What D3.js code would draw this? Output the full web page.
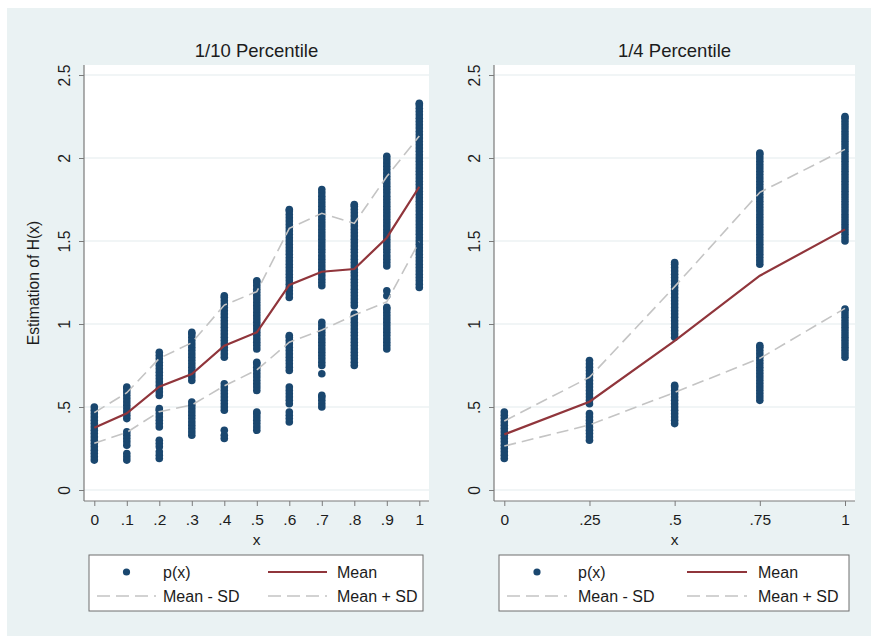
<!DOCTYPE html>
<html>
<head>
<meta charset="utf-8">
<script src="https://cdn.jsdelivr.net/npm/d3@7"></script>
<style>
    body { margin: 0; background: #fff; }
    svg text { font-family: "Liberation Sans", Arial, sans-serif; }
</style>
</head>
<body>
<div id="chart"></div>
<script>
// ---- data: 1/10 percentile panel ----
const tenthX = [0, 0.1, 0.2, 0.3, 0.4, 0.5, 0.6, 0.7, 0.8, 0.9, 1];
const tenthXLabels = ['0', '.1', '.2', '.3', '.4', '.5', '.6', '.7', '.8', '.9', '1'];
const tenthMean = [0.375, 0.462, 0.622, 0.699, 0.869, 0.950, 1.235, 1.315, 1.331, 1.520, 1.827];
const tenthUpper = [0.466, 0.586, 0.793, 0.887, 1.114, 1.195, 1.576, 1.667, 1.606, 1.888, 2.133];
const tenthLower = [0.281, 0.347, 0.472, 0.512, 0.627, 0.723, 0.890, 0.964, 1.054, 1.134, 1.496];
const tenthObs = [
    [0.18, 0.20, 0.22, 0.24, 0.26, 0.28, 0.30, 0.32, 0.34, 0.36, 0.38, 0.40, 0.42, 0.44, 0.46, 0.48, 0.50],
    [0.18, 0.20, 0.22, 0.27, 0.29, 0.31, 0.33, 0.35, 0.43, 0.45, 0.47, 0.49, 0.51, 0.53, 0.55, 0.57, 0.59, 0.61, 0.62],
    [0.19, 0.21, 0.23, 0.26, 0.28, 0.30, 0.38, 0.40, 0.42, 0.44, 0.46, 0.48, 0.49, 0.57, 0.59, 0.61, 0.63, 0.65, 0.67, 0.69, 0.71, 0.73, 0.75, 0.77, 0.79, 0.81, 0.83],
    [0.33, 0.35, 0.37, 0.39, 0.41, 0.43, 0.45, 0.47, 0.49, 0.51, 0.53, 0.66, 0.68, 0.70, 0.72, 0.74, 0.76, 0.78, 0.80, 0.82, 0.84, 0.86, 0.88, 0.90, 0.92, 0.94, 0.95],
    [0.31, 0.33, 0.36, 0.48, 0.50, 0.52, 0.54, 0.56, 0.58, 0.60, 0.62, 0.64, 0.80, 0.82, 0.84, 0.86, 0.88, 0.90, 0.92, 0.94, 0.96, 0.98, 1.00, 1.02, 1.04, 1.06, 1.08, 1.10, 1.12, 1.14, 1.16, 1.17],
    [0.36, 0.38, 0.40, 0.42, 0.44, 0.46, 0.47, 0.60, 0.62, 0.64, 0.66, 0.68, 0.70, 0.72, 0.74, 0.76, 0.77, 0.85, 0.87, 0.89, 0.91, 0.93, 0.95, 0.97, 0.99, 1.01, 1.03, 1.05, 1.07, 1.09, 1.11, 1.13, 1.15, 1.17, 1.19, 1.21, 1.23, 1.25, 1.26],
    [0.41, 0.43, 0.45, 0.47, 0.52, 0.54, 0.56, 0.58, 0.60, 0.62, 0.72, 0.74, 0.76, 0.78, 0.80, 0.82, 0.84, 0.86, 0.88, 0.90, 0.92, 0.93, 1.16, 1.18, 1.20, 1.22, 1.24, 1.26, 1.28, 1.30, 1.32, 1.34, 1.36, 1.38, 1.40, 1.42, 1.44, 1.46, 1.48, 1.50, 1.52, 1.54, 1.56, 1.58, 1.60, 1.62, 1.64, 1.66, 1.68, 1.69],
    [0.50, 0.52, 0.54, 0.56, 0.57, 0.70, 0.75, 0.77, 0.79, 0.81, 0.83, 0.85, 0.87, 0.89, 0.91, 0.93, 0.95, 0.97, 0.99, 1.01, 1.23, 1.25, 1.27, 1.29, 1.31, 1.33, 1.35, 1.37, 1.39, 1.41, 1.43, 1.45, 1.47, 1.49, 1.51, 1.53, 1.55, 1.57, 1.59, 1.61, 1.63, 1.65, 1.67, 1.69, 1.71, 1.73, 1.75, 1.77, 1.79, 1.81],
    [0.75, 0.77, 0.79, 0.81, 0.83, 0.85, 0.87, 0.89, 0.91, 0.93, 0.95, 0.97, 0.99, 1.01, 1.03, 1.05, 1.06, 1.11, 1.13, 1.15, 1.17, 1.19, 1.21, 1.23, 1.25, 1.27, 1.29, 1.31, 1.33, 1.35, 1.37, 1.39, 1.41, 1.43, 1.45, 1.47, 1.49, 1.51, 1.53, 1.55, 1.57, 1.59, 1.61, 1.63, 1.65, 1.67, 1.69, 1.71, 1.72],
    [0.85, 0.87, 0.89, 0.91, 0.93, 0.95, 0.97, 0.99, 1.01, 1.03, 1.05, 1.07, 1.09, 1.10, 1.17, 1.20, 1.35, 1.37, 1.39, 1.41, 1.43, 1.45, 1.47, 1.49, 1.51, 1.53, 1.55, 1.57, 1.59, 1.61, 1.63, 1.65, 1.67, 1.69, 1.71, 1.73, 1.75, 1.77, 1.79, 1.81, 1.83, 1.85, 1.87, 1.89, 1.91, 1.93, 1.95, 1.97, 1.99, 2.01],
    [1.22, 1.24, 1.26, 1.28, 1.30, 1.32, 1.34, 1.36, 1.38, 1.40, 1.42, 1.44, 1.46, 1.48, 1.50, 1.52, 1.54, 1.56, 1.58, 1.60, 1.62, 1.64, 1.66, 1.68, 1.70, 1.72, 1.74, 1.76, 1.78, 1.80, 1.82, 1.84, 1.86, 1.88, 1.90, 1.92, 1.94, 1.96, 1.98, 2.00, 2.02, 2.04, 2.06, 2.08, 2.10, 2.12, 2.14, 2.16, 2.18, 2.20, 2.22, 2.24, 2.26, 2.28, 2.30, 2.32, 2.33]
];

// ---- data: 1/4 percentile panel ----
const quarterX = [0, 0.25, 0.5, 0.75, 1];
const quarterXLabels = ['0', '.25', '.5', '.75', '1'];
const quarterMean = [0.335, 0.532, 0.898, 1.291, 1.570];
const quarterUpper = [0.416, 0.679, 1.225, 1.793, 2.052];
const quarterLower = [0.265, 0.392, 0.588, 0.793, 1.094];
const quarterObs = [
    [0.19, 0.21, 0.23, 0.25, 0.27, 0.29, 0.31, 0.33, 0.35, 0.37, 0.39, 0.41, 0.43, 0.45, 0.47],
    [0.30, 0.32, 0.34, 0.36, 0.38, 0.40, 0.42, 0.44, 0.46, 0.52, 0.54, 0.56, 0.58, 0.60, 0.62, 0.64, 0.66, 0.68, 0.70, 0.72, 0.74, 0.76, 0.78],
    [0.40, 0.42, 0.44, 0.46, 0.48, 0.50, 0.52, 0.54, 0.56, 0.58, 0.60, 0.62, 0.63, 0.92, 0.94, 0.96, 0.98, 1.00, 1.02, 1.04, 1.06, 1.08, 1.10, 1.12, 1.14, 1.16, 1.18, 1.20, 1.22, 1.24, 1.26, 1.28, 1.30, 1.32, 1.34, 1.36, 1.37],
    [0.54, 0.56, 0.58, 0.60, 0.62, 0.64, 0.66, 0.68, 0.70, 0.72, 0.74, 0.76, 0.78, 0.80, 0.82, 0.84, 0.86, 0.87, 1.36, 1.38, 1.40, 1.42, 1.44, 1.46, 1.48, 1.50, 1.52, 1.54, 1.56, 1.58, 1.60, 1.62, 1.64, 1.66, 1.68, 1.70, 1.72, 1.74, 1.76, 1.78, 1.80, 1.82, 1.84, 1.86, 1.88, 1.90, 1.92, 1.94, 1.96, 1.98, 2.00, 2.02, 2.03],
    [0.80, 0.82, 0.84, 0.86, 0.88, 0.90, 0.92, 0.94, 0.96, 0.98, 1.00, 1.02, 1.04, 1.06, 1.08, 1.09, 1.50, 1.52, 1.54, 1.56, 1.58, 1.60, 1.62, 1.64, 1.66, 1.68, 1.70, 1.72, 1.74, 1.76, 1.78, 1.80, 1.82, 1.84, 1.86, 1.88, 1.90, 1.92, 1.94, 1.96, 1.98, 2.00, 2.02, 2.04, 2.06, 2.08, 2.10, 2.12, 2.14, 2.16, 2.18, 2.20, 2.22, 2.24, 2.25]
];

// shared y axis
const yTicks = [0, 0.5, 1, 1.5, 2, 2.5];
const yTickLabels = ['0', '.5', '1', '1.5', '2', '2.5'];
const legendLabels = ['p(x)', 'Mean', 'Mean - SD', 'Mean + SD'];

const navy = '#1a476f';
const maroon = '#90353b';
const sdGray = '#c4c4c4';
const axisGray = '#7a7a7a';
const textColor = '#1c1c1c';

let svg = d3.select('#chart').append('svg')
    .attr('width', 878)
    .attr('height', 643);

// graph region background
svg.append('rect')
    .attr('x', 7).attr('y', 8)
    .attr('width', 864).attr('height', 628)
    .attr('fill', '#eaf2f3');

function drawPanel(p) {
    let dimensions = { top: 65, bottom: 501, left: p.left, right: p.right };
    let bounds = svg.append('g');

    let xScale = d3.scaleLinear()
        .domain([0, 1])
        .range([p.x0, p.x1]);

    let yScale = d3.scaleLinear()
        .domain([0, 2.5])
        .range([490, 75]);

    // plot region
    bounds.append('rect')
        .attr('x', dimensions.left)
        .attr('y', dimensions.top)
        .attr('width', dimensions.right - dimensions.left)
        .attr('height', dimensions.bottom - dimensions.top)
        .attr('fill', '#fff');

    // grid
    bounds.selectAll('.grid')
        .data(yTicks)
        .join('line')
        .attr('x1', dimensions.left)
        .attr('x2', dimensions.right)
        .attr('y1', d => yScale(d))
        .attr('y2', d => yScale(d))
        .attr('stroke', '#e3eced')
        .attr('stroke-width', 1.2);

    // scatter of p(x)
    let points = [];
    p.obs.forEach((vals, i) => vals.forEach(v => points.push({ x: p.xs[i], y: v })));
    bounds.append('g')
        .selectAll('circle')
        .data(points)
        .join('circle')
        .attr('cx', d => xScale(d.x))
        .attr('cy', d => yScale(d.y))
        .attr('r', 3.8)
        .attr('fill', navy);

    let lineGen = vals => d3.line()
        .x((d, i) => xScale(p.xs[i]))
        .y(d => yScale(d))(vals);

    bounds.append('path')
        .attr('d', lineGen(p.lower))
        .attr('fill', 'none')
        .attr('stroke', sdGray)
        .attr('stroke-width', 1.6)
        .attr('stroke-dasharray', '12,6');

    bounds.append('path')
        .attr('d', lineGen(p.upper))
        .attr('fill', 'none')
        .attr('stroke', sdGray)
        .attr('stroke-width', 1.6)
        .attr('stroke-dasharray', '12,6');

    bounds.append('path')
        .attr('d', lineGen(p.mean))
        .attr('fill', 'none')
        .attr('stroke', maroon)
        .attr('stroke-width', 2.2);

    // axes
    let yAxisGenerator = d3.axisLeft(yScale)
        .tickValues(yTicks)
        .tickFormat((d, i) => yTickLabels[i])
        .tickSize(5);

    let yAxis = bounds.append('g')
        .attr('transform', `translate(${dimensions.left},0)`)
        .call(yAxisGenerator);
    yAxis.select('.domain').remove();
    yAxis.selectAll('.tick line').attr('stroke', axisGray);
    yAxis.selectAll('.tick text')
        .attr('transform', 'rotate(-90)')
        .attr('x', 0)
        .attr('y', -14.5)
        .attr('dy', 0)
        .style('text-anchor', 'middle')
        .style('font-size', '15.7px')
        .attr('fill', textColor);

    let xAxisGenerator = d3.axisBottom(xScale)
        .tickValues(p.xs)
        .tickFormat((d, i) => p.xLabels[i])
        .tickSize(5);

    let xAxis = bounds.append('g')
        .attr('transform', `translate(0,${dimensions.bottom})`)
        .call(xAxisGenerator);
    xAxis.select('.domain').remove();
    xAxis.selectAll('.tick line').attr('stroke', axisGray);
    xAxis.selectAll('.tick text')
        .attr('y', 13)
        .style('font-size', '15.5px')
        .attr('fill', textColor);

    bounds.append('line')
        .attr('x1', dimensions.left).attr('x2', dimensions.left)
        .attr('y1', dimensions.top).attr('y2', dimensions.bottom)
        .attr('stroke', axisGray).attr('stroke-width', 1.2);
    bounds.append('line')
        .attr('x1', dimensions.left).attr('x2', dimensions.right)
        .attr('y1', dimensions.bottom).attr('y2', dimensions.bottom)
        .attr('stroke', axisGray).attr('stroke-width', 1.2);

    let midX = (dimensions.left + dimensions.right) / 2;

    // titles
    bounds.append('text')
        .attr('x', midX).attr('y', 57)
        .attr('text-anchor', 'middle')
        .style('font-size', '18.5px')
        .attr('fill', textColor)
        .text(p.title);

    bounds.append('text')
        .attr('x', midX).attr('y', 545)
        .attr('text-anchor', 'middle')
        .style('font-size', '15.5px')
        .attr('fill', textColor)
        .text('x');

    if (p.yTitle) {
        bounds.append('text')
            .attr('transform', `translate(39,${(dimensions.top + dimensions.bottom) / 2}) rotate(-90)`)
            .attr('text-anchor', 'middle')
            .style('font-size', '15.7px')
            .attr('fill', textColor)
            .text(p.yTitle);
    }

    // legend
    let lg = p.legend;
    let legend = bounds.append('g');
    legend.append('rect')
        .attr('x', lg.x).attr('y', 555)
        .attr('width', lg.w).attr('height', 56)
        .attr('fill', '#fff')
        .attr('stroke', '#6f6f6f')
        .attr('stroke-width', 1);

    let row1 = 572, row2 = 596;
    legend.append('circle')
        .attr('cx', lg.x + lg.key1 + lg.keyW / 2).attr('cy', row1)
        .attr('r', 3.6).attr('fill', navy);
    legend.append('line')
        .attr('x1', lg.x + lg.key2).attr('x2', lg.x + lg.key2 + lg.keyW)
        .attr('y1', row1).attr('y2', row1)
        .attr('stroke', maroon).attr('stroke-width', 2.2);
    legend.append('line')
        .attr('x1', lg.x + lg.key1).attr('x2', lg.x + lg.key1 + lg.keyW)
        .attr('y1', row2).attr('y2', row2)
        .attr('stroke', sdGray).attr('stroke-width', 1.6)
        .attr('stroke-dasharray', '13,6');
    legend.append('line')
        .attr('x1', lg.x + lg.key2).attr('x2', lg.x + lg.key2 + lg.keyW)
        .attr('y1', row2).attr('y2', row2)
        .attr('stroke', sdGray).attr('stroke-width', 1.6)
        .attr('stroke-dasharray', '13,6');

    let labelPos = [
        [lg.x + lg.text1, row1], [lg.x + lg.text2, row1],
        [lg.x + lg.text1, row2], [lg.x + lg.text2, row2]
    ];
    legend.selectAll('.lbl')
        .data(legendLabels)
        .join('text')
        .attr('x', (d, i) => labelPos[i][0])
        .attr('y', (d, i) => labelPos[i][1] + 6)
        .style('font-size', '16px')
        .attr('fill', textColor)
        .text(d => d);
}

drawPanel({
    left: 84, right: 429, x0: 94.3, x1: 419.3,
    xs: tenthX, xLabels: tenthXLabels, obs: tenthObs,
    mean: tenthMean, upper: tenthUpper, lower: tenthLower,
    title: '1/10 Percentile', yTitle: 'Estimation of H(x)',
    legend: { x: 89, w: 334, key1: 8, key2: 179, keyW: 59, text1: 74, text2: 248 }
});

drawPanel({
    left: 494, right: 855, x0: 504.3, x1: 845,
    xs: quarterX, xLabels: quarterXLabels, obs: quarterObs,
    mean: quarterMean, upper: quarterUpper, lower: quarterLower,
    title: '1/4 Percentile', yTitle: null,
    legend: { x: 499, w: 350, key1: 8, key2: 188, keyW: 60, text1: 79, text2: 259 }
});
</script>
</body>
</html>
